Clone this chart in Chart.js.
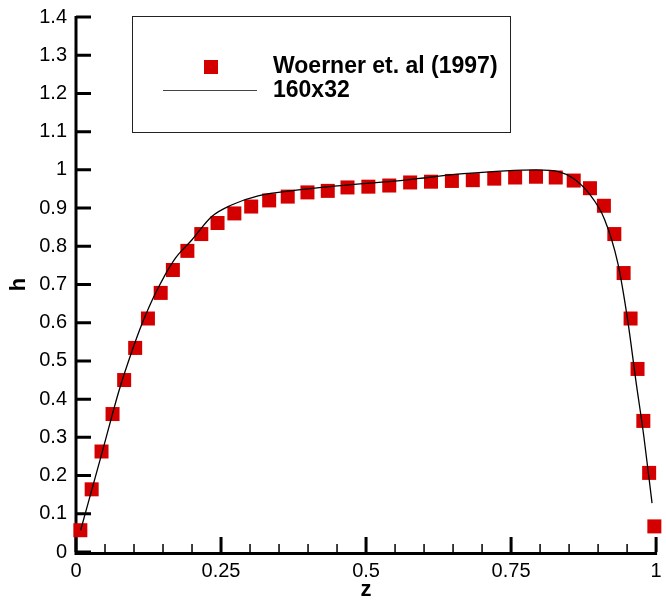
<!DOCTYPE html>
<html>
<head>
<meta charset="utf-8">
<script src="https://cdn.jsdelivr.net/npm/chart.js@4.4.1/dist/chart.umd.min.js"></script>
<style>
  html, body { margin: 0; padding: 0; background: #fff; }
  #wrap { width: 666px; height: 603px; }
</style>
</head>
<body>
<div id="wrap"><canvas id="hChart" width="666" height="603"></canvas></div>
<script>
// measured profile, Woerner et. al (1997)
const expZ = [0.0075, 0.027, 0.044, 0.063, 0.083, 0.102, 0.124, 0.146, 0.167, 0.192,
              0.216, 0.244, 0.273, 0.302, 0.333, 0.365, 0.399, 0.434, 0.468, 0.504,
              0.540, 0.576, 0.612, 0.648, 0.684, 0.721, 0.757, 0.793, 0.827, 0.858,
              0.886, 0.910, 0.928, 0.944, 0.956, 0.968, 0.978, 0.988, 0.997];
const expH = [0.057, 0.164, 0.263, 0.361, 0.450, 0.534, 0.611, 0.678, 0.738, 0.788,
              0.832, 0.861, 0.886, 0.904, 0.920, 0.930, 0.941, 0.945, 0.954, 0.956,
              0.959, 0.967, 0.969, 0.971, 0.973, 0.977, 0.980, 0.982, 0.980, 0.972,
              0.952, 0.906, 0.832, 0.730, 0.611, 0.479, 0.343, 0.207, 0.067];

// computed profile on the 160x32 grid
const simZ = [0.008, 0.046, 0.0745, 0.097, 0.114, 0.137, 0.169, 0.200, 0.234, 0.268,
              0.314, 0.380, 0.451, 0.571, 0.668, 0.794, 0.833, 0.857, 0.885, 0.911,
              0.934, 0.951, 0.965, 0.979, 0.993];
const simH = [0.057, 0.266, 0.424, 0.528, 0.598, 0.677, 0.764, 0.817, 0.878, 0.908,
              0.932, 0.947, 0.958, 0.974, 0.990, 1.000, 0.995, 0.978, 0.937, 0.871,
              0.756, 0.607, 0.450, 0.301, 0.128];

const seriesNames = ['Woerner et. al (1997)', '160x32'];

const xTickValues = [0, 0.25, 0.5, 0.75, 1];
const xTickLabels = ['0', '0.25', '0.5', '0.75', '1'];
const yTickValues = [0, 0.1, 0.2, 0.3, 0.4, 0.5, 0.6, 0.7, 0.8, 0.9, 1, 1.1, 1.2, 1.3, 1.4];
const yTickLabels = ['0', '0.1', '0.2', '0.3', '0.4', '0.5', '0.6', '0.7', '0.8', '0.9', '1', '1.1', '1.2', '1.3', '1.4'];

const FONT = "'Liberation Sans', Arial, Helvetica, sans-serif";
const RED = 'rgb(212,0,0)';

// axis lines with ticks pointing into the plot
const axesPlugin = {
  id: 'insideAxes',
  beforeDatasetsDraw(chart) {
    const ctx = chart.ctx;
    const xs = chart.scales.x, ys = chart.scales.y;
    const x0 = xs.getPixelForValue(0), x1 = xs.getPixelForValue(1);
    const y0 = ys.getPixelForValue(0), y1 = ys.getPixelForValue(1.4);
    ctx.save();
    ctx.strokeStyle = '#000';
    ctx.lineCap = 'butt';
    ctx.lineWidth = 3;
    ctx.beginPath();
    ctx.moveTo(x0, y1 - 1);
    ctx.lineTo(x0, y0 + 1.5);
    ctx.lineTo(x1 + 1, y0 + 1.5);
    ctx.stroke();

    ctx.beginPath();
    yTickValues.forEach(v => {
      const py = ys.getPixelForValue(v);
      ctx.moveTo(x0, py);
      ctx.lineTo(x0 + 15, py);
    });
    xTickValues.forEach(v => {
      const px = xs.getPixelForValue(v);
      ctx.moveTo(px, y0);
      ctx.lineTo(px, y0 - 15);
    });
    ctx.stroke();

    ctx.lineWidth = 1.5;
    ctx.beginPath();
    for (let i = 1; i < 20; i++) {
      if (i % 5 === 0) continue;
      const px = xs.getPixelForValue(i * 0.05);
      ctx.moveTo(px, y0);
      ctx.lineTo(px, y0 - 8);
    }
    ctx.stroke();
    ctx.restore();
  }
};

// boxed legend in the upper part of the plot
const legendPlugin = {
  id: 'boxLegend',
  afterDraw(chart) {
    const ctx = chart.ctx;
    const ds = chart.data.datasets;
    ctx.save();
    ctx.fillStyle = '#fff';
    ctx.fillRect(132.5, 16.5, 378, 116);
    ctx.strokeStyle = '#222';
    ctx.lineWidth = 1;
    ctx.strokeRect(132.5, 16.5, 378, 116);

    ctx.fillStyle = RED;
    ctx.fillRect(204, 60, 14, 14);

    ctx.strokeStyle = '#444';
    ctx.lineWidth = 1;
    ctx.beginPath();
    ctx.moveTo(163, 90.5);
    ctx.lineTo(257, 90.5);
    ctx.stroke();

    ctx.fillStyle = '#000';
    ctx.font = 'bold 23px ' + FONT;
    ctx.textBaseline = 'middle';
    ctx.textAlign = 'left';
    ctx.fillText(ds[0].label, 273, 67);
    ctx.fillText(ds[1].label, 273, 91);
    ctx.restore();
  }
};

new Chart(document.getElementById('hChart'), {
  type: 'scatter',
  data: {
    datasets: [
      {
        label: seriesNames[0],
        data: expZ.map((z, i) => ({ x: z, y: expH[i] })),
        pointStyle: 'rect',
        pointRadius: 9.9,
        pointHoverRadius: 9.9,
        backgroundColor: RED,
        borderWidth: 0,
        clip: false,
        order: 1
      },
      {
        label: seriesNames[1],
        data: simZ.map((z, i) => ({ x: z, y: simH[i] })),
        showLine: true,
        borderColor: '#000',
        borderWidth: 1.3,
        pointRadius: 0,
        cubicInterpolationMode: 'monotone',
        fill: false,
        order: 0
      }
    ]
  },
  options: {
    responsive: false,
    animation: false,
    devicePixelRatio: 1,
    layout: { padding: { top: 17, right: 5, left: 0, bottom: 0 } },
    plugins: {
      legend: { display: false },
      tooltip: { enabled: false }
    },
    scales: {
      x: {
        type: 'linear',
        min: 0,
        max: 1,
        afterBuildTicks: s => { s.ticks = xTickValues.map(v => ({ value: v })); },
        afterFit: s => { s.height = 51; s.paddingLeft = 0; s.paddingRight = 0; },
        grid: { display: false, drawTicks: false },
        border: { display: false },
        ticks: {
          callback: (v, i) => xTickLabels[i],
          color: '#000',
          font: { family: FONT, size: 20 },
          padding: 7,
          maxRotation: 0,
          autoSkip: false
        },
        title: {
          display: true,
          text: 'z',
          color: '#000',
          font: { family: FONT, size: 22, weight: 'bold' },
          padding: { top: 0, bottom: 0 }
        }
      },
      y: {
        type: 'linear',
        min: 0,
        max: 1.4,
        afterBuildTicks: s => { s.ticks = yTickValues.map(v => ({ value: v })); },
        afterFit: s => { s.width = 76; s.paddingTop = 0; s.paddingBottom = 0; },
        grid: { display: false, drawTicks: false },
        border: { display: false },
        ticks: {
          callback: (v, i) => yTickLabels[i],
          color: '#000',
          font: { family: FONT, size: 20 },
          padding: 9,
          autoSkip: false
        },
        title: {
          display: true,
          text: 'h',
          color: '#000',
          font: { family: FONT, size: 22, weight: 'bold' },
          padding: { top: 6, bottom: 0 }
        }
      }
    }
  },
  plugins: [axesPlugin, legendPlugin]
});
</script>
</body>
</html>
